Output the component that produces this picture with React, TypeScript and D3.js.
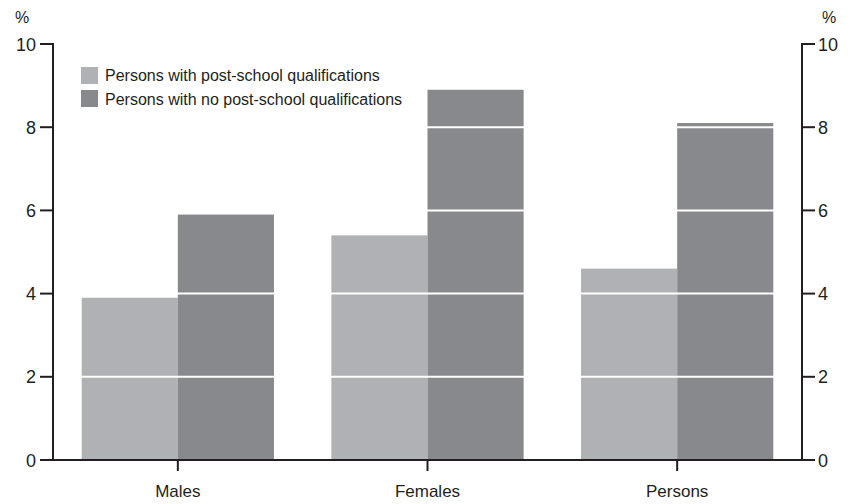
import React from "react";
import * as d3 from "d3";

const categories = ["Males", "Females", "Persons"];
const seriesNames = [
  "Persons with post-school qualifications",
  "Persons with no post-school qualifications",
];
const postSchool = [3.9, 5.4, 4.6];
const noPostSchool = [5.9, 8.9, 8.1];
const yTicks = [0, 2, 4, 6, 8, 10];
const colors = ["#b0b1b4", "#88898c"];

export default function App() {
  const W = 848, H = 504;
  const left = 53, right = 802, top = 44, bottom = 460;
  const x = d3.scaleBand<string>().domain(categories).range([left, right]).paddingInner(0.23).paddingOuter(0.115);
  const inner = d3.scaleBand<number>().domain([0, 1]).range([0, x.bandwidth()]);
  const y = d3.scaleLinear().domain([0, 10]).range([bottom, top]);
  const series = [postSchool, noPostSchool];
  const font = "'Liberation Sans', Arial, sans-serif";
  return (
    <svg width={W} height={H} style={{ position: "absolute", left: 0, top: 0 }} fontFamily={font}>
      <rect width={W} height={H} fill="#fff" />
      {categories.map((c, i) =>
        series.map((s, j) => (
          <rect key={c + j} x={(x(c) as number) + (inner(j) as number)} y={y(s[i])} width={inner.bandwidth()} height={bottom - y(s[i])} fill={colors[j]} />
        ))
      )}
      {yTicks.filter((t) => t > 0 && t < 10).map((t) => (
        <line key={"g" + t} x1={left} x2={right} y1={y(t)} y2={y(t)} stroke="#fff" strokeWidth={2} />
      ))}
      <line x1={left} x2={left} y1={top - 1} y2={bottom} stroke="#231f20" strokeWidth={2} />
      <line x1={right} x2={right} y1={top - 1} y2={bottom} stroke="#231f20" strokeWidth={2} />
      <line x1={40} x2={815} y1={bottom} y2={bottom} stroke="#231f20" strokeWidth={2} />
      {yTicks.map((t) => (
        <g key={"t" + t}>
          <line x1={left - 13} x2={left} y1={y(t)} y2={y(t)} stroke="#231f20" strokeWidth={2} />
          <line x1={right} x2={right + 13} y1={y(t)} y2={y(t)} stroke="#231f20" strokeWidth={2} />
          <text x={36} y={y(t) + 6.5} textAnchor="end" fontSize={18} fill="#231f20">{t}</text>
          <text x={818} y={y(t) + 6.5} textAnchor="start" fontSize={18} fill="#231f20">{t}</text>
        </g>
      ))}
      <text x={22} y={23} textAnchor="middle" fontSize={16} fill="#231f20">%</text>
      <text x={829} y={23} textAnchor="middle" fontSize={16} fill="#231f20">%</text>
      {categories.map((c) => {
        const cx = (x(c) as number) + x.bandwidth() / 2;
        return (
          <g key={"c" + c}>
            <line x1={cx} x2={cx} y1={bottom} y2={bottom + 11} stroke="#231f20" strokeWidth={2} />
            <text x={cx} y={497} textAnchor="middle" fontSize={17} fill="#231f20">{c}</text>
          </g>
        );
      })}
      {seriesNames.map((n, j) => (
        <g key={"l" + j}>
          <rect x={81} y={67 + j * 23} width={17} height={17} fill={colors[j]} />
          <text x={105} y={81 + j * 24} fontSize={16} fill="#231f20">{n}</text>
        </g>
      ))}
    </svg>
  );
}
